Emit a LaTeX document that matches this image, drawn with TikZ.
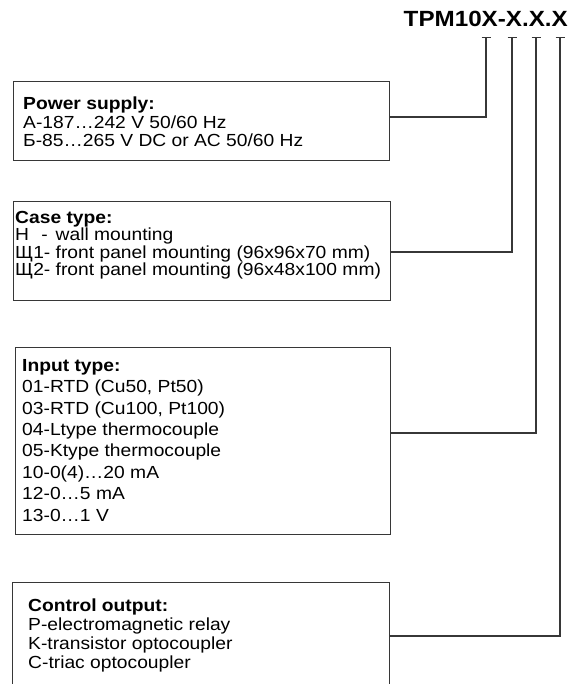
\documentclass[tikz,border=0pt]{standalone}
\usepackage{fontspec}
\setmainfont[FakeStretch=1.1]{Liberation Sans}
\usetikzlibrary{positioning,calc}
\definecolor{frame}{RGB}{55,55,55}
\newlength\keylen
\newcommand\keyw[1]{\settowidth\keylen{Щ1-}\makebox[\keylen][l]{#1}}

\begin{document}
\begin{tikzpicture}[x=1pt, y=-1pt,
  box/.style={draw=frame, line width=1pt, anchor=north west, inner sep=0pt},
  txt/.style={anchor=base west, align=left, inner sep=0pt, font=\fontsize{17.5}{18.5}\selectfont},
  wire/.style={draw=frame, line width=1.2pt},
  tick/.style={draw=frame, line width=1pt}
]
\useasboundingbox (0,0) rectangle (569,684);
\clip (0,0) rectangle (569,684);

% order code
\node[anchor=base east, inner sep=0pt, font=\fontsize{22}{22}\selectfont\bfseries] (code) at (568,27) {TPM10X-X.X.X};
\coordinate (k1) at (486,38);
\coordinate (k2) at (512,38);
\coordinate (k3) at (536,38);
\coordinate (k4) at (560,38);

% boxes
\node[box, minimum width=376, minimum height=79] (power) at (13,81) {};
\node[box, minimum width=377, minimum height=99] (case) at (13,201) {};
\node[box, minimum width=375, minimum height=187] (input) at (15,347) {};
\node[box, minimum width=377, minimum height=140] (output) at (12,582) {};

% texts, placed by the baseline of their last line
\node[txt] (powertxt) at (23,147) {\textbf{Power supply:}\\
А-187…242 V 50/60 Hz\\
Б-85…265 V DC or AC 50/60 Hz};
\node[txt, font=\fontsize{17.5}{17.6}\selectfont] (casetxt) at (15,276) {\textbf{Case type:}\\
\keyw{Н\hspace{.7em}-} wall mounting\\
\keyw{Щ1-} front panel mounting (96x96x70 mm)\\
\keyw{Щ2-} front panel mounting (96x48x100 mm)};
\node[txt, font=\fontsize{17.5}{21.4}\selectfont] (inputtxt) at (22,521) {\textbf{Input type:}\\
01-RTD (Cu50, Pt50)\\
03-RTD (Cu100, Pt100)\\
04-Ltype thermocouple\\
05-Ktype thermocouple\\
10-0(4)…20 mA\\
12-0…5 mA\\
13-0…1 V};
\node[txt, font=\fontsize{17.5}{18.7}\selectfont] (outputtxt) at (28,668) {\textbf{Control output:}\\
Р-electromagnetic relay\\
K-transistor optocoupler\\
С-triac optocoupler};

% connectors
\draw[wire] (power.north east) ++(0,36) -| (k1);
\draw[wire] (case.north east) ++(0,51) -| (k2);
\draw[wire] (input.north east) ++(0,86) -| (k3);
\draw[wire] (output.north east) ++(0,54) -| (k4);
\foreach \k in {k1,k2,k3,k4}
  \draw[tick] ([xshift=-4.5]\k) -- ([xshift=4.5]\k);
\end{tikzpicture}
\end{document}
